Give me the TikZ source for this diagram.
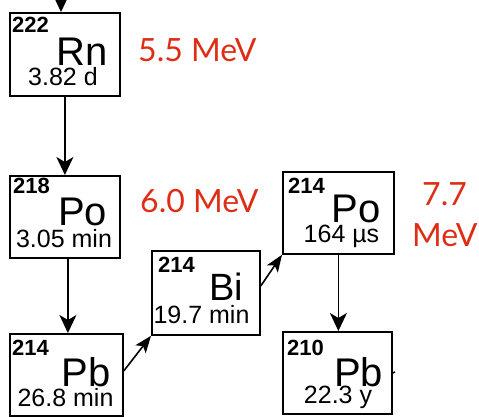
\documentclass[tikz,border=0pt]{standalone}
\usepackage{fontspec}
\setmainfont{Liberation Sans}
\newfontfamily\redfont{Lato}
\usetikzlibrary{arrows.meta}
\definecolor{mevred}{RGB}{222,45,20}
\tikzset{
  isobox/.style={draw=black, line width=1.8pt, anchor=north west, inner sep=0, minimum width=#1},
  massnum/.style={font=\fontsize{22}{22}\selectfont\bfseries, anchor=base west, inner sep=0},
  elsym/.style={font=\fontsize{40}{40}\selectfont, anchor=base, inner sep=0},
  halflife/.style={font=\fontsize{25}{25}\selectfont, anchor=base, inner sep=0},
  energy/.style={font=\redfont\fontsize{32}{32}\selectfont, text=mevred, anchor=base west, inner sep=0},
  arr/.style={line width=1.6pt, -{Stealth[length=18pt,width=17pt,inset=5pt]}},
  darr/.style={line width=1.6pt, -{Stealth[length=17pt,width=13pt,inset=4pt]}},
}
\begin{document}
\begin{tikzpicture}[x=1pt,y=-1pt]
\useasboundingbox (0,0) rectangle (479,416);
\clip (0,0) rectangle (479,416);
% boxes
\node[isobox=110pt, minimum height=83pt] (rn) at (9,12) {};
\node[isobox=110pt, minimum height=82pt] (po218) at (9,175) {};
\node[isobox=113pt, minimum height=82pt] (pb214) at (9,333) {};
\node[isobox=108pt, minimum height=84pt] (bi) at (151,250) {};
\node[isobox=111pt, minimum height=82pt] (po214) at (282,171) {};
\node[isobox=109pt, minimum height=82pt] (pb210) at (282,331) {};
% Rn
\node[massnum] (rnA) at (12,32) {222};
\node[elsym] (rnS) at (82,65) {Rn};
\node[halflife] (rnT) at (63,85.5) {3.82 d};
% Po218
\node[massnum] (poA) at (13,193) {218};
\node[elsym] (poS) at (82.5,225) {Po};
\node[halflife] (poT) at (64,247.5) {3.05 min};
% Pb214
\node[massnum] (pbA) at (12,355) {214};
\node[elsym] (pbS) at (86,386) {Pb};
\node[halflife] (pbT) at (65.5,406.5) {26.8 min};
% Bi214
\node[massnum] (biA) at (158,272) {214};
\node[elsym, font=\fontsize{38}{38}\selectfont] (biS) at (226.5,300) {Bi};
\node[halflife] (biT) at (201.5,323.5) {19.7 min};
% Po214
\node[massnum] (po2A) at (288,193) {214};
\node[elsym] (po2S) at (356,222) {Po};
\node[halflife] (po2T) at (341.5,242.5) {164 µs};
% Pb210
\node[massnum] (pb2A) at (287,355) {210};
\node[elsym] (pb2S) at (358.5,386) {Pb};
\node[halflife] (pb2T) at (338,403.5) {22.3 y};
% energies
\node[energy] (e1) at (138,61) {5.5 MeV};
\node[energy] (e2) at (140,212) {6.0 MeV};
\node[energy] (e3) at (422,205) {7.7};
\node[energy] (e4) at (412,246) {MeV};
% connectors
\coordinate (topin) at (61,-20);
\draw[arr] (topin) -- (topin |- rn.north);
\draw[arr] (rn.south) -- (po218.north);
\draw[arr] ([xshift=3pt]po218.south) -- ([xshift=3pt]po218.south |- pb214.north);
\draw[darr] ([yshift=4pt]pb214.east) -- (bi.south west);
\draw[darr] ([yshift=7pt]bi.east) -- (po214.south west);
\draw[arr] (po214.south) -- (po214.south |- pb210.north);
\coordinate (stub) at (395,372);
\draw[line width=1.6pt] (pb210.east) -- (stub);
\end{tikzpicture}
\end{document}
